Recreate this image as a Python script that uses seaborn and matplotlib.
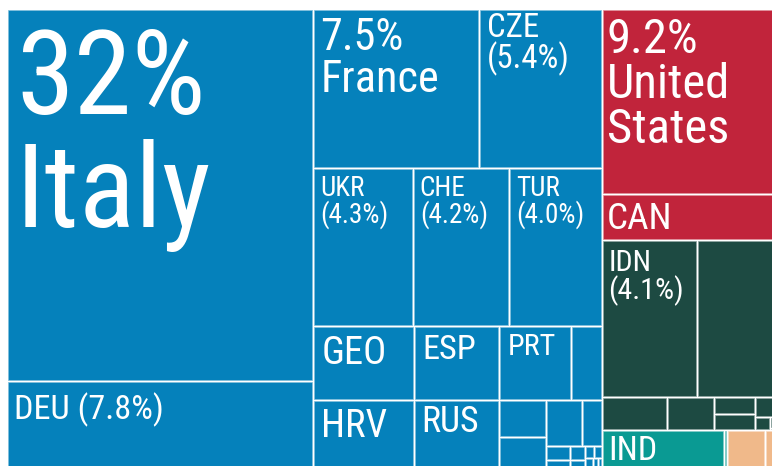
import matplotlib
matplotlib.use("Agg")
import matplotlib.pyplot as plt
from matplotlib.patches import Rectangle
from matplotlib import font_manager
import matplotlib.colors as mcolors
import seaborn as sns

# ---------------- data (share of total, %) ----------------
europe_names = ["ITA", "DEU", "FRA", "CZE", "UKR", "CHE", "TUR", "GEO", "HRV", "ESP",
                "RUS", "PRT", "POL", "AUT", "GRC", "BEL", "NLD", "ROU", "BGR", "SRB",
                "SVK", "HUN", "BLR", "ALB", "SVN", "MKD", "BIH", "LTU", "LVA"]
europe_values = [31.6, 7.8, 7.3, 5.4, 4.35, 4.22, 4.03, 2.08, 2.04, 1.75,
                 1.72, 1.47, 0.63, 0.49, 0.47, 0.46, 0.25, 0.09, 0.088, 0.056,
                 0.054, 0.03, 0.025, 0.02, 0.015, 0.012, 0.01, 0.008, 0.005]

namerica_names = ["USA", "CAN"]
namerica_values = [9.2, 2.3]

asia_names = ["IDN", "CHN", "JPN", "KOR", "ISR", "ARE", "SGP", "THA", "VNM", "MYS", "PHL"]
asia_values = [4.14, 3.65, 0.6, 0.43, 0.2, 0.185, 0.146, 0.05, 0.02, 0.012, 0.007]

teal_names = ["IND", "PAK"]
teal_values = [1.46, 0.04]

tan_names = ["EGY", "ZAF"]
tan_values = [0.456, 0.192]

group_names = ["Europe", "North America", "Asia", "South Asia", "Africa"]
group_colors = ["#0581bb", "#c1243b", "#1d4a42", "#0a9a93", "#f0b98a"]

# displayed labels
labels = {
    "ITA": ["32%", "Italy"],
    "FRA": ["7.5%", "France"],
    "CZE": ["CZE", "(5.4%)"],
    "USA": ["9.2%", "United", "States"],
    "CAN": ["CAN"],
    "UKR": ["UKR", "(4.3%)"],
    "CHE": ["CHE", "(4.2%)"],
    "TUR": ["TUR", "(4.0%)"],
    "IDN": ["IDN", "(4.1%)"],
    "GEO": ["GEO"],
    "ESP": ["ESP"],
    "PRT": ["PRT"],
    "HRV": ["HRV"],
    "RUS": ["RUS"],
    "DEU": ["DEU (7.8%)"],
    "IND": ["IND"],
}
# label style: cap height px, line pitch px, pad x, pad y
label_style = {
    "ITA": (82, 113, 9, 23),
    "FRA": (31, 42, 7, 10),
    "CZE": (23, 31, 8, 5),
    "USA": (34, 45, 5, 10),
    "CAN": (26, 32, 5, 9),
    "UKR": (19, 27, 7, 9),
    "CHE": (19, 27, 7, 9),
    "TUR": (19, 27, 7, 9),
    "IDN": (21, 28, 7, 10),
    "GEO": (27, 34, 8, 11),
    "ESP": (24, 30, 8, 9),
    "PRT": (21, 28, 9, 8),
    "HRV": (27, 34, 8, 10),
    "RUS": (25, 30, 7, 7),
    "DEU": (24, 30, 7, 14),
    "IND": (24, 30, 7, 6),
}

groups = [
    (europe_names, europe_values),
    (namerica_names, namerica_values),
    (asia_names, asia_values),
    (teal_names, teal_values),
    (tan_names, tan_values),
]

# ---------------- style ----------------
sns.set_theme(style="white")
avail = {f.name for f in font_manager.fontManager.ttflist}
FONT = "DejaVu Sans"
for fam in ["Liberation Sans Narrow", "DejaVu Sans Condensed", "Roboto Condensed",
            "Open Sans Condensed", "Liberation Sans"]:
    if fam in avail:
        FONT = fam
        break
plt.rcParams["font.family"] = [FONT, "DejaVu Sans"]
CAP_RATIO = 0.70

PHI = (1 + 5 ** 0.5) / 2


def squarify(values, x0, y0, x1, y1, ratio=PHI):
    """d3-hierarchy squarify layout; returns rects in input order."""
    order = sorted(range(len(values)), key=lambda i: -values[i])
    nodes = [values[i] for i in order]
    rects = [None] * len(values)
    n = len(nodes)
    value = float(sum(nodes))
    i0 = i1 = 0
    while i0 < n:
        dx, dy = x1 - x0, y1 - y0
        sumv = nodes[i1]
        i1 += 1
        minv = maxv = sumv
        alpha = max(dy / dx, dx / dy) / (value * ratio)
        beta = sumv * sumv * alpha
        minratio = max(maxv / beta, beta / minv)
        while i1 < n:
            nv = nodes[i1]
            sumv += nv
            minv = min(minv, nv)
            maxv = max(maxv, nv)
            beta = sumv * sumv * alpha
            newratio = max(maxv / beta, beta / minv)
            if newratio > minratio:
                sumv -= nv
                break
            minratio = newratio
            i1 += 1
        row = range(i0, i1)
        if dx < dy:
            h = dy * sumv / value
            xx = x0
            for k in row:
                w = dx * nodes[k] / sumv
                rects[order[k]] = (xx, y0, xx + w, y0 + h)
                xx += w
            y0 += h
        else:
            w = dx * sumv / value
            yy = y0
            for k in row:
                h = dy * nodes[k] / sumv
                rects[order[k]] = (x0, yy, x0 + w, yy + h)
                yy += h
            x0 += w
        value -= sumv
        i0 = i1
    return rects


fig = plt.figure(figsize=(7.72, 4.66), dpi=100)
ax = fig.add_axes([0, 0, 1, 1])
ax.set_xlim(0, 772)
ax.set_ylim(466, 0)
ax.axis("off")

# full treemap area (partly outside the visible crop)
X0, Y0, X1, Y1 = 7, 9, 781, 473
group_totals = [sum(v) for _, v in groups]
group_rects = squarify(group_totals, X0, Y0, X1, Y1)

cell_rects = {}
for (names, vals), grect, color in zip(groups, group_rects, group_colors):
    rects = squarify(vals, *grect)
    edge = mcolors.to_hex([0.5 * c + 0.5 for c in mcolors.to_rgb(color)])
    for name, (a, b, c, d) in zip(names, rects):
        cell_rects[name] = (a, b, c, d)
        ax.add_patch(Rectangle((a + 1, b + 1), (c - a) - 2, (d - b) - 2,
                               facecolor=color, edgecolor=edge, linewidth=0.5))

for name, lines in labels.items():
    cap, pitch, px, py = label_style[name]
    a, b, c, d = cell_rects[name]
    fs = cap / CAP_RATIO * 0.72
    base = b + py + cap
    for i, line in enumerate(lines):
        ax.text(a + px, base + i * pitch, line, color="white", fontsize=fs,
                ha="left", va="baseline")

fig.savefig("out.png", dpi=100, facecolor="white")
